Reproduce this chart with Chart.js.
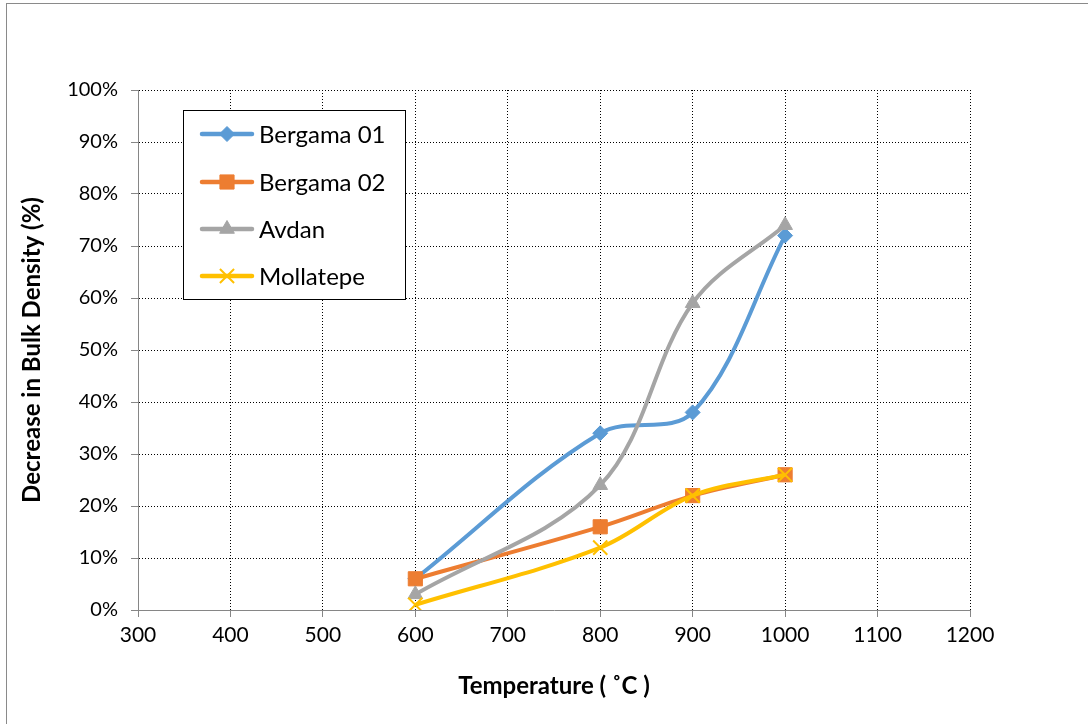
<!DOCTYPE html>
<html>
<head>
<meta charset="utf-8">
<script src="https://cdn.jsdelivr.net/npm/chart.js@4.4.1/dist/chart.umd.min.js"></script>
<style>
  html, body { margin: 0; padding: 0; background: #fff; }
  #wrap { position: absolute; left: 0; top: 0; width: 1088px; height: 724px; }
  #frame { position: absolute; left: 6px; top: 3px; width: 1090px; height: 730px; border-left: 1px solid #8a8a8a; border-top: 1px solid #8a8a8a; box-sizing: border-box; pointer-events: none; }
</style>
</head>
<body>
<div id="wrap">
  <canvas id="c" width="1088" height="724"></canvas>
  <div id="frame"></div>
</div>
<script>
const temperatures = [600, 800, 900, 1000];
const bergama01 = [6, 34, 38, 72];
const bergama02 = [6, 16, 22, 26];
const avdan = [3, 24, 59, 74];
const mollatepe = [1, 12, 22, 26];
const seriesNames = ['Bergama 01', 'Bergama 02', 'Avdan', 'Mollatepe'];
const xTicks = [300, 400, 500, 600, 700, 800, 900, 1000, 1100, 1200];
const yTicks = [0, 10, 20, 30, 40, 50, 60, 70, 80, 90, 100];

const FONT = 'Lato, "Open Sans", "Liberation Sans", sans-serif';

function pts(vals) { return temperatures.map((t, i) => ({ x: t, y: vals[i] })); }

const styles = [
  { color: '#5b9bd5', pointStyle: 'rectRot', radius: 7.5, bw: 1 },
  { color: '#ed7d31', pointStyle: 'rect', radius: 10, bw: 1 },
  { color: '#a5a5a5', pointStyle: 'triangle', radius: 8.5, bw: 1 },
  { color: '#ffc000', pointStyle: 'crossRot', radius: 10, bw: 2 }
];
const allVals = [bergama01, bergama02, avdan, mollatepe];

const datasets = allVals.map((v, i) => ({
  label: seriesNames[i],
  data: pts(v),
  borderColor: styles[i].color,
  backgroundColor: styles[i].color,
  pointBackgroundColor: styles[i].color,
  pointBorderColor: styles[i].color,
  pointBorderWidth: styles[i].bw,
  pointStyle: styles[i].pointStyle,
  pointRadius: styles[i].radius,
  pointHoverRadius: styles[i].radius,
  borderWidth: 4,
  tension: 0.35,
  fill: false,
  order: 3 - i
}));

const legendBox = {
  id: 'legendBox',
  afterDraw(chart) {
    const ctx = chart.ctx;
    const x0 = 183.5, y0 = 110.5, w = 222, h = 189;
    ctx.save();
    ctx.fillStyle = '#fff';
    ctx.fillRect(x0, y0, w, h);
    ctx.strokeStyle = '#000';
    ctx.lineWidth = 1;
    ctx.strokeRect(x0, y0, w, h);
    const rowY = [134, 182, 229, 276];
    chart.data.datasets.forEach((ds, i) => {
      const y = rowY[i];
      ctx.strokeStyle = ds.borderColor;
      ctx.lineWidth = 4.5;
      ctx.lineCap = 'round';
      ctx.beginPath();
      ctx.moveTo(202, y);
      ctx.lineTo(252, y);
      ctx.stroke();
      ctx.lineCap = 'butt';
      ctx.fillStyle = ds.pointBackgroundColor;
      ctx.strokeStyle = ds.pointBorderColor;
      ctx.lineWidth = ds.pointBorderWidth;
      Chart.helpers.drawPoint(ctx, {
        pointStyle: ds.pointStyle,
        radius: ds.pointRadius,
        borderWidth: ds.pointBorderWidth,
        rotation: 0
      }, 227, y);
      ctx.fillStyle = '#000';
      ctx.font = '24px ' + FONT;
      ctx.textBaseline = 'middle';
      ctx.textAlign = 'left';
      ctx.fillText(ds.label, 259, y + 1);
    });
    ctx.restore();
  }
};

new Chart(document.getElementById('c'), {
  type: 'line',
  data: { datasets },
  options: {
    responsive: false,
    animation: false,
    devicePixelRatio: 1,
    layout: { padding: { top: 90, right: 118, left: 0, bottom: 0 } },
    plugins: { legend: { display: false }, tooltip: { enabled: false } },
    scales: {
      x: {
        type: 'linear',
        min: 300, max: 1200,
        afterBuildTicks(scale) { scale.ticks = xTicks.map(v => ({ value: v })); },
        afterFit(scale) { scale.height = 114; },
        ticks: { color: '#000', font: { family: FONT, size: 21 }, padding: 6, maxRotation: 0, callback: v => String(v) },
        grid: { color: '#000', lineWidth: 1, tickLength: 7, tickColor: '#868686', tickWidth: 1 },
        border: { color: '#868686', width: 1, dash: [1, 2] },
        title: { display: true, text: 'Temperature ( ˚C )', color: '#000', font: { family: FONT, size: 24, weight: 'bold' }, padding: { top: 4, bottom: 23 } }
      },
      y: {
        type: 'linear',
        min: 0, max: 100,
        afterBuildTicks(scale) { scale.ticks = yTicks.map(v => ({ value: v })); },
        afterFit(scale) { scale.width = 138; },
        ticks: { color: '#000', font: { family: FONT, size: 20 }, padding: 13, callback: v => v + '%' },
        grid: { color: '#000', lineWidth: 1, tickLength: 7, tickColor: '#868686', tickWidth: 1 },
        border: { color: '#868686', width: 1, dash: [1, 2] },
        title: { display: true, text: 'Decrease in Bulk Density (%)', color: '#000', font: { family: FONT, size: 24, weight: 'bold' }, padding: { top: 18, bottom: 4 } }
      }
    }
  },
  plugins: [legendBox]
});
</script>
</body>
</html>
